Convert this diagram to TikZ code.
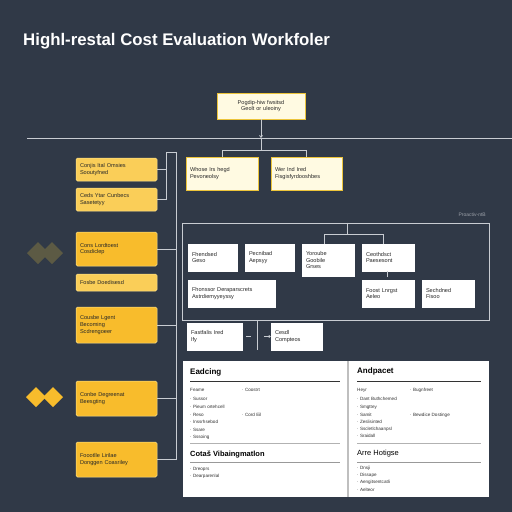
\documentclass[tikz,border=0pt]{standalone}
\usepackage{fontspec}
\setmainfont{Liberation Sans}
\setsansfont{Liberation Sans}
\usetikzlibrary{arrows.meta}
\definecolor{bg}{RGB}{48,57,71}
\definecolor{ln}{RGB}{200,204,210}
\definecolor{cream}{RGB}{255,250,226}
\definecolor{creamedge}{RGB}{236,196,58}
\definecolor{ylight}{RGB}{250,206,88}
\definecolor{ydark}{RGB}{248,188,44}
\definecolor{yedge}{RGB}{253,226,140}
\definecolor{olive}{RGB}{92,90,68}
\definecolor{txt}{RGB}{40,40,40}
\tikzset{
  base/.style={inner sep=4pt, anchor=center, align=left, font=\fontsize{5.6}{6.8}\selectfont, text=txt},
  creambox/.style={base, fill=cream, draw=creamedge, line width=0.9pt},
  lbox/.style={base, fill=ylight, draw=yedge, line width=0.5pt, rounded corners=1.5pt},
  dbox/.style={base, fill=ydark, draw=yedge, line width=0.5pt, rounded corners=1.5pt},
  wbox/.style={base, fill=white, draw=white, line width=0.4pt},
  conn/.style={draw=ln, line width=0.8pt},
  pan/.style={fill=white, draw=none},
  hd/.style={anchor=west, font=\bfseries\fontsize{8}{9}\selectfont, text=black, inner sep=0pt},
  it/.style={anchor=west, font=\fontsize{4.6}{5}\selectfont, text=black!80, inner sep=0pt},
}
\newcommand{\bx}[7]{\node[#6, minimum width={(#4-#2)*1pt}, minimum height={(#5-#3)*1pt}, text width={(#4-#2)*1pt-8pt}] (#1) at ({(#2+#4)/2},{(#3+#5)/2}) {#7};}
\begin{document}
\begin{tikzpicture}[x=1pt,y=-1pt]
\fill[bg] (0,0) rectangle (512,512);
\useasboundingbox (0,0) rectangle (512,512);
% title
\node[anchor=west, text=white, font=\bfseries\fontsize{16.8}{18}\selectfont, inner sep=0pt] (title) at (23,41) {Highl-restal Cost Evaluation Workfoler};
% top
\bx{top}{217}{93}{305}{119}{creambox, align=center}{Pogdip-hiw fwsitsd\\ Geolt or uleoiny}
\coordinate (hlL) at (27,138);
\coordinate (hlR) at (512,138);
\draw[conn] (hlL) -- (hlR);
\draw[conn, -{Straight Barb[length=2pt,width=3pt]}] (top.south) -- (top.south |- hlL);
\bx{w1}{186}{157}{258}{190}{creambox}{Whose Irs hegd\\ Pevoneolsy}
\bx{w2}{271}{157}{342}{190}{creambox}{Wer Ind Ired\\ Fisgisfyrdooshbes}
\coordinate (sp) at (261,150);
\draw[conn] (top.south |- hlL) -- (sp);
\draw[conn] (w1.north) -- (w1.north |- sp) -- (w2.north |- sp) -- (w2.north);
% left boxes
\bx{l1}{76}{158}{157}{181}{lbox}{Conjis Ital Omsies\\ Sooutyfned}
\bx{l2}{76}{188}{157}{211}{lbox}{Ceds Ytar Cunbecs\\ Sasetetyy}
\bx{l3}{76}{232}{157}{266}{dbox}{Cons Lordtoest\\ Cosdiclep}
\bx{l4}{76}{274}{157}{291}{lbox}{Fosbe Doedisesd}
\bx{l5}{76}{307}{157}{343}{dbox}{Cousbe Lgent\\ Becoming\\ Scdrengoeer}
\bx{l6}{76}{381}{157}{416}{dbox}{Conbe Degreenat\\ Beesgting}
\bx{l7}{76}{442}{157}{477}{dbox}{Foootlle Lirilae\\ Donggen Coasriley}
% bus
\coordinate (bA) at (166,152);
\coordinate (bB) at (176,152);
\coordinate (bBend) at (176,460);
\draw[conn] (l2.east) -- (l2.east -| bA) -- (bA) -- (bB) -- (bBend);
\draw[conn] (l1.east) -- (l1.east -| bA);
\draw[conn] (l3.east) -- (l3.east -| bB);
\draw[conn] (l5.east) -- (l5.east -| bB);
\draw[conn] (l6.east) -- (l6.east -| bB);
\draw[conn] (l7.east) -- (l7.east -| bB);
% diamonds
\fill[olive] (27,253) -- (38,242) -- (49,253) -- (38,264) -- cycle;
\fill[olive] (41,253) -- (52,242) -- (63,253) -- (52,264) -- cycle;
\fill[ydark] (26,397) -- (36,387) -- (46,397) -- (36,407) -- cycle;
\fill[ydark] (43,397) -- (53,387) -- (63,397) -- (53,407) -- cycle;
% big frame
\node[draw=ln, line width=0.8pt, minimum width=307pt, minimum height=97pt, inner sep=0pt] (frame) at (335.5,271.5) {};
\node[anchor=east, text=ln!70!bg, font=\fontsize{5}{5}\selectfont, inner sep=0pt] (flab) at (486,215) {Proactiv-ntB};
\bx{b1}{188}{244}{237}{271}{wbox}{Fhendsed\\ Geso}
\bx{b2}{245}{244}{294}{271}{wbox}{Pecnibad\\ Aepsyy}
\bx{b3}{302}{244}{354}{276}{wbox}{Yoroube\\ Goobile\\ Grses}
\bx{b4}{362}{244}{414}{271}{wbox}{Ceothdsct\\ Paesesont}
\bx{b5}{188}{280}{275}{307}{wbox}{Fhonssor Deraparscrets\\ Astrdiemyyeyssy}
\bx{b6}{362}{280}{414}{307}{wbox}{Foost Lnrgst\\ Aeleo}
\bx{b7}{422}{280}{474}{307}{wbox}{Sechdned\\ Fisoo}
\coordinate (fs) at (347,234);
\draw[conn] (frame.north -| fs) -- (fs);
\draw[conn] (b3.north -| 324,0) -- (324,234) -- (383,234) -- (383,244);
\draw[conn, line width=0.6pt] (387,271) -- (387,277);
\bx{b8}{187}{323}{242}{350}{wbox}{Fastfalis Ired\\ Ify}
\bx{b9}{271}{323}{322}{350}{wbox}{Cesdl\\ Compteos}
\coordinate (vt) at (257,320);
\coordinate (vb) at (257,350);
\draw[conn] (vt) -- (vb);
\draw[conn, line width=0.6pt] (b8.east) ++(4,0) -- ++(5,0);
\draw[conn, line width=0.6pt, -{Straight Barb[length=1.5pt,width=2.5pt]}] (264,336.5) -- (b9.west);
% panels
\fill[pan] (183,361) rectangle (347,497);
\fill[pan] (349,361) rectangle (489,497);
\fill[black!25] (347,361) rectangle (349,497);
% panel 1
\node[hd] (h1) at (190,372) {Eadcing};
\draw[black!80, line width=1pt] (190,381) -- (340,381);
\node[it] at (190,390) {Feame};
\node[it] at (242,390) {· Coostrt};
\node[it] at (190,399) {· Sussor};
\node[it] at (190,407) {· Pieum ortehcell};
\node[it] at (190,415) {· Reso};
\node[it] at (242,415) {· Cord Eil};
\node[it] at (190,422) {· Inssrhsebod};
\node[it] at (190,430) {· Ssare};
\node[it] at (190,437) {· Sssoing};
\draw[black!30, line width=0.6pt] (190,443) -- (340,443);
\node[hd, font=\bfseries\fontsize{7.5}{8}\selectfont] (h2) at (190,454) {Cotaš Vibaingmatlon};
\draw[black!40, line width=0.6pt] (190,462) -- (340,462);
\node[it] at (190,469) {· Dreoprs};
\node[it] at (190,476) {· Dearparenlal};
% panel 2
\node[hd] (h3) at (357,371) {Andpacet};
\draw[black!80, line width=1pt] (357,381) -- (481,381);
\node[it] at (357,390) {Heyr};
\node[it] at (410,390) {· Bugnfreet};
\node[it] at (357,399) {· Dant Buthchemed};
\node[it] at (357,407) {· Smgttey};
\node[it] at (357,415) {· Samit};
\node[it] at (410,415) {· Bewdice Dostinge};
\node[it] at (357,422) {· Zeslisinted};
\node[it] at (357,429) {· Sscletlchaanpsl};
\node[it] at (357,436) {· Sraidall};
\draw[black!30, line width=0.6pt] (357,443) -- (481,443);
\node[hd, font=\fontsize{7.5}{8}\selectfont] (h4) at (357,454) {Arre Hotigse};
\draw[black!40, line width=0.6pt] (357,462) -- (481,462);
\node[it] at (357,468) {· Dnsji};
\node[it] at (357,475) {· Dissape};
\node[it] at (357,482) {· Aengitsentcatli};
\node[it] at (357,490) {· Aelteor};
\end{tikzpicture}
\end{document}
